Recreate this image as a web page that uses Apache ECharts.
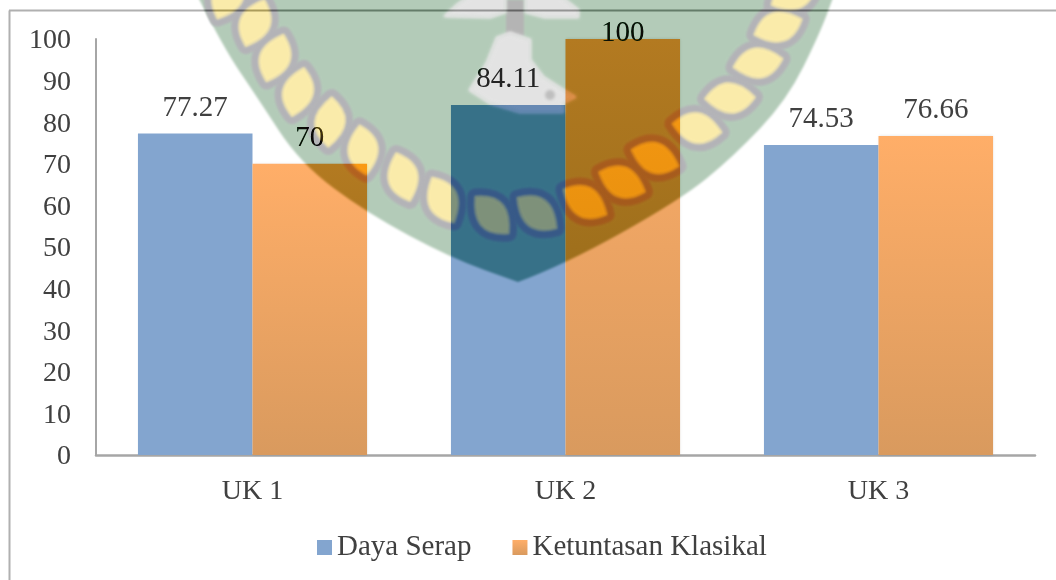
<!DOCTYPE html>
<html><head><meta charset="utf-8">
<style>html,body{margin:0;padding:0;background:#fff}#c{width:1056px;height:580px}</style>
<script src="https://cdn.jsdelivr.net/npm/echarts@6/dist/echarts.min.js"></script>
</head><body><div id="c"></div>
<script>
const categories = ['UK 1', 'UK 2', 'UK 3'];
const dayaSerap = [77.27, 84.11, 74.53];
const ketuntasanKlasikal = [70, 100, 76.66];
const seriesNames = ['Daya Serap', 'Ketuntasan Klasikal'];

const FONT = '"Liberation Serif", "Times New Roman", serif';
const TEXT = '#404040';

// Background watermark, painted off-screen and laid over the chart.
function watermark() {
  const cv = document.createElement('canvas');
  cv.width = 1056; cv.height = 580;
  const g = cv.getContext('2d');
  const left = [[197,-5],[223,47],[257,97],[300,163],[367,213],[451,258],[518,282]];
  const right = [[518,282],[564,265],[680,200],[733,157],[787,100],[820,33],[834,-5]];
  function curve(p) {
    for (let i = 1; i < p.length - 1; i++) {
      g.quadraticCurveTo(p[i][0], p[i][1], (p[i][0]+p[i+1][0])/2, (p[i][1]+p[i+1][1])/2);
    }
    g.lineTo(p[p.length-1][0], p[p.length-1][1]);
  }
  g.filter = 'blur(0.8px)';
  g.fillStyle = 'rgb(76,52,71)';
  g.beginPath(); g.moveTo(197,-5); curve(left); curve(right); g.closePath(); g.fill();

  const leaves = [[228,-4,25],[255,23,22],[275,58,20],[298,92,14],[330,122,4],[363,150,-8],[403,177,-16],
    [443,200,-26],[492,215,-42],[537,213,-52],[585,202,-60],[622,182,-67],[655,158,-71],
    [697,128,-80],[730,98,88],[758,63,80],[778,27,72],[794,-6,64]];
  function leaf(x, y, deg, len, wid) {
    g.save(); g.translate(x, y); g.rotate(deg * Math.PI / 180);
    g.beginPath(); g.moveTo(0, -len/2);
    g.quadraticCurveTo(wid, -len*0.05, 0, len/2);
    g.quadraticCurveTo(-wid, len*0.05, 0, -len/2);
    g.closePath(); g.fill(); g.stroke(); g.restore();
  }
  g.lineJoin = 'round';
  g.filter = 'blur(1.2px)';
  g.fillStyle = g.strokeStyle = 'rgb(76,76,72)'; g.lineWidth = 16;
  leaves.forEach(l => leaf(l[0], l[1], l[2], 50, 30));
  g.fillStyle = g.strokeStyle = 'rgb(5,20,85)'; g.lineWidth = 1;
  leaves.forEach(l => leaf(l[0], l[1], l[2], 50, 30));

  // Emblem at the top of the shield
  g.fillStyle = 'rgb(75,75,75)';
  g.fillRect(506, 0, 18, 36);
  g.filter = 'blur(1.6px)';
  g.fillStyle = g.strokeStyle = 'rgb(28,28,28)'; g.lineWidth = 3;
  const blobs = [
    [[445,16],[457,5],[470,-4],[505,-4],[505,12],[490,17]],
    [[526,12],[526,-4],[560,-4],[578,10],[578,17],[545,17]],
    [[510,33],[497,38],[487,63],[470,90],[490,103],[520,112],[563,112],[563,103],[575,97],[563,90],[543,77],[530,60],[530,40]]
  ];
  blobs.forEach(b => { g.beginPath(); g.moveTo(b[0][0], b[0][1]); b.slice(1).forEach(p => g.lineTo(p[0], p[1])); g.closePath(); g.fill(); g.stroke(); });
  g.fillStyle = 'rgb(65,65,65)';
  g.beginPath(); g.arc(550, 95, 5, 0, 7); g.fill();
  return cv;
}

const labelBase = { show: true, position: 'top', distance: 11, color: TEXT, fontFamily: FONT, fontSize: 29 };
const orangeFill = { type: 'linear', x: 0, y: 0, x2: 0, y2: 1,
  colorStops: [{ offset: 0, color: '#ffae68' }, { offset: 1, color: '#d99a5e' }] };

const chart = echarts.init(document.getElementById('c'), null, { renderer: 'canvas' });
chart.setOption({
  animation: false,
  backgroundColor: '#ffffff',
  grid: { left: 96, right: 21, top: 39, bottom: 125 },
  legend: {
    left: 312, top: 528, itemWidth: 15, itemHeight: 15, itemGap: 41,
    icon: 'rect',
    textStyle: { fontFamily: FONT, fontSize: 29, color: TEXT },
    selectedMode: false
  },
  xAxis: {
    type: 'category', data: categories,
    axisLine: { lineStyle: { color: '#a6a6a6', width: 2.5 } },
    axisTick: { show: false },
    axisLabel: { color: TEXT, fontFamily: FONT, fontSize: 28, margin: 23 }
  },
  yAxis: {
    type: 'value', min: 0, max: 100, interval: 10,
    axisLine: { show: true, lineStyle: { color: '#a6a6a6', width: 2 } },
    axisTick: { show: false },
    splitLine: { show: false },
    axisLabel: { color: TEXT, fontFamily: FONT, fontSize: 28, margin: 25, verticalAlign: 'top', lineHeight: 4 }
  },
  series: [
    { name: seriesNames[0], type: 'bar', data: dayaSerap, barWidth: '36.6%', barGap: '0%',
      itemStyle: { color: '#83a5cf' }, label: labelBase },
    { name: seriesNames[1], type: 'bar',
      data: ketuntasanKlasikal.map(v => v === 100 ? { value: v, label: { offset: [0, 20] } } : v),
      barWidth: '36.6%',
      itemStyle: { color: orangeFill, shadowColor: 'rgba(0,0,0,0.12)', shadowBlur: 3 }, label: labelBase }
  ],
  graphic: [
    { type: 'line', z: 1, silent: true, shape: { x1: 9.5, y1: 10.5, x2: 9.5, y2: 580 }, style: { stroke: '#b0b0b0', lineWidth: 2 } },
    { type: 'line', z: 1, silent: true, shape: { x1: 9, y1: 10.5, x2: 1056, y2: 10.5 }, style: { stroke: '#b0b0b0', lineWidth: 2 } },
    { type: 'image', z: 100, silent: true, style: { image: watermark(), x: 0, y: 0, width: 1056, height: 580, blend: 'difference' } }
  ]
});
</script></body></html>
